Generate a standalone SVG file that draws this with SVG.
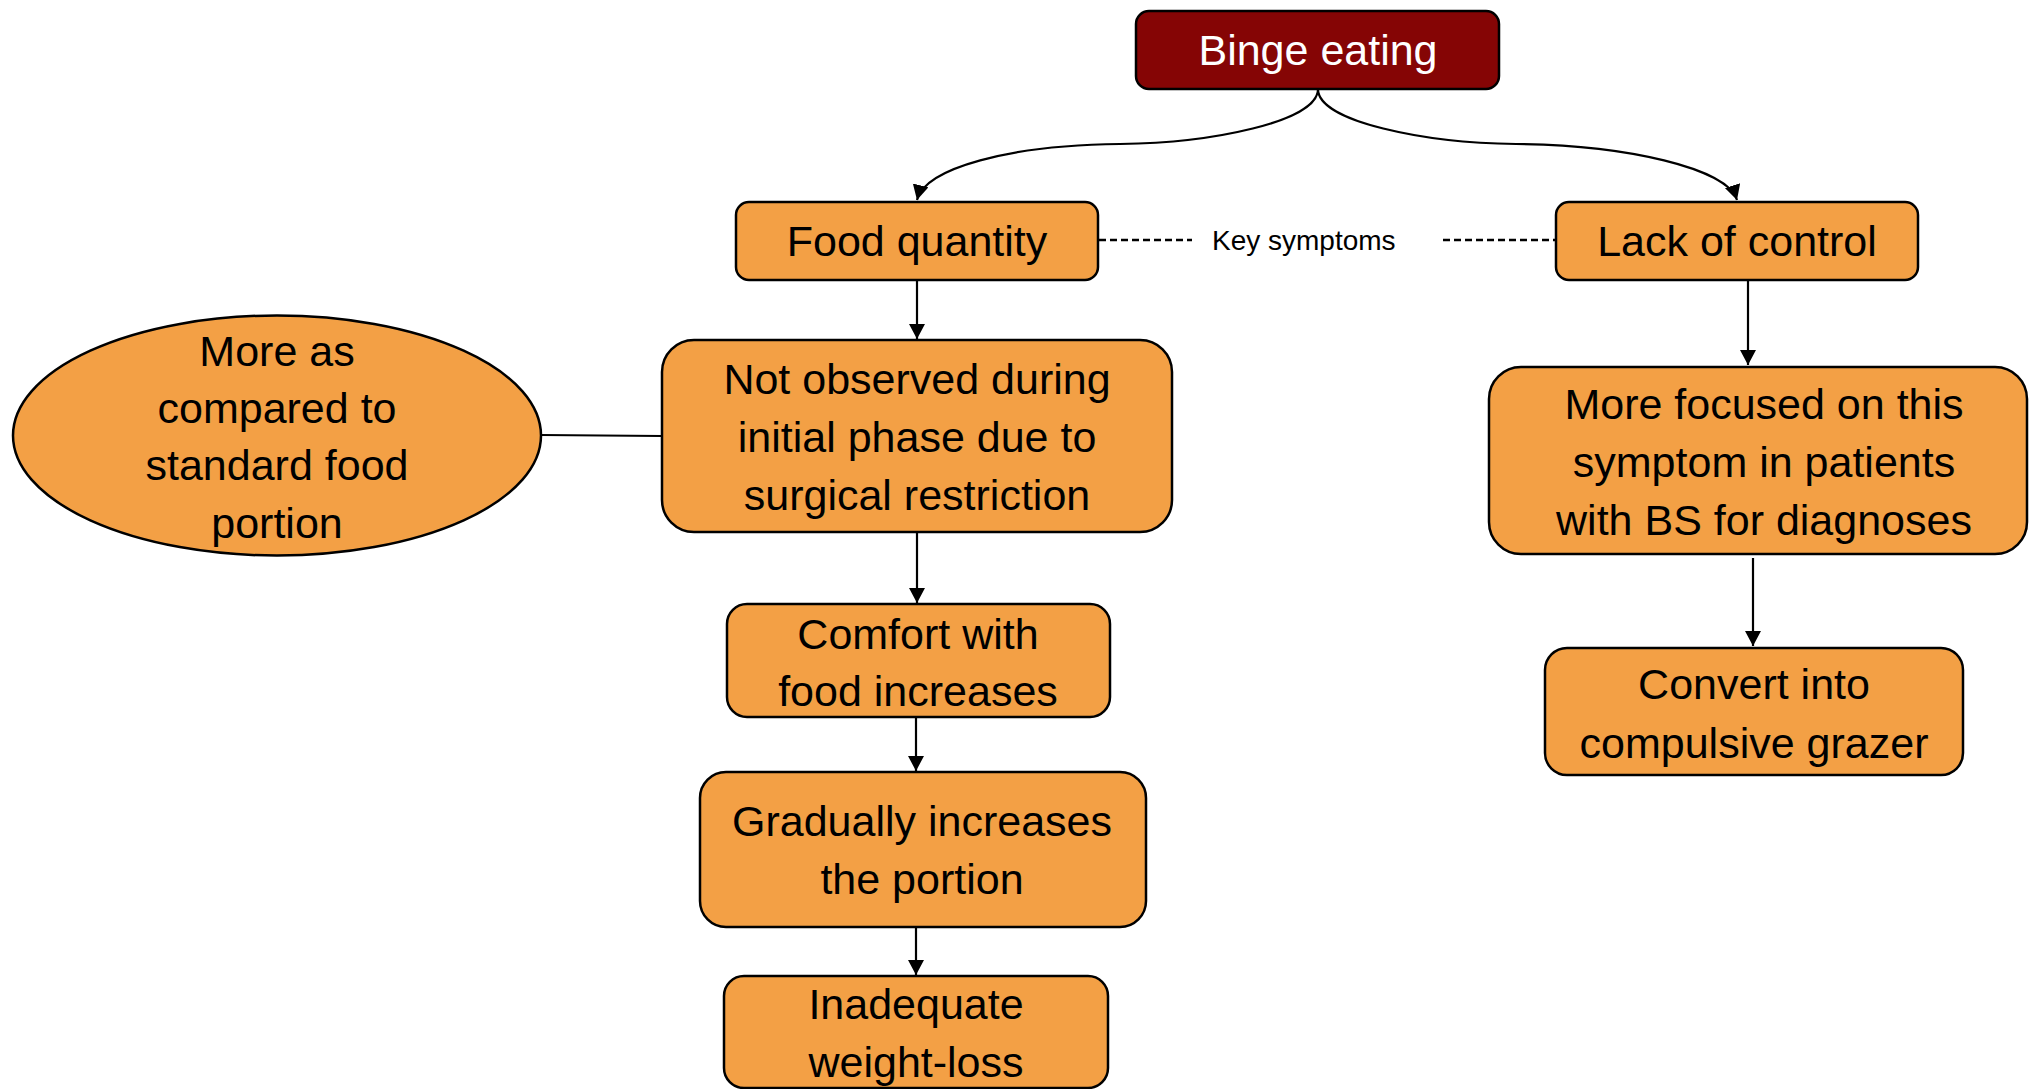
<svg xmlns="http://www.w3.org/2000/svg" width="2029" height="1089" viewBox="0 0 2029 1089">
<style>
.box{fill:#F3A045;stroke:#000;stroke-width:2.5}
.root{fill:#850505;stroke:#000;stroke-width:2.5}
.t{font-family:"Liberation Sans",Arial,sans-serif;font-size:43px;fill:#000;text-anchor:middle}
.w{fill:#fff}
.ks{font-family:"Liberation Sans",Arial,sans-serif;font-size:28px;fill:#000}
.c{fill:none;stroke:#000;stroke-width:2.2}
.d{fill:none;stroke:#000;stroke-width:2.4;stroke-dasharray:7 4}
</style>
<defs>
<marker id="ah" markerUnits="userSpaceOnUse" markerWidth="18" markerHeight="18" refX="15" refY="8" orient="auto">
<path d="M0,0 L15,8 L0,16 Z" fill="#000"/>
</marker>
</defs>
<rect width="2029" height="1089" fill="#fff"/>
<g id="connectors">
<path class="c" d="M1318,89 C1318,122 1210,143 1120,144 C1010,145 925,168 917,200" marker-end="url(#ah)"/>
<path class="c" d="M1318,89 C1318,122 1426,143 1516,144 C1626,145 1727,168 1737,200" marker-end="url(#ah)"/>
<line class="c" x1="917" y1="280" x2="917" y2="339" marker-end="url(#ah)"/>
<line class="c" x1="917" y1="532" x2="917" y2="603" marker-end="url(#ah)"/>
<line class="c" x1="916" y1="717" x2="916" y2="771" marker-end="url(#ah)"/>
<line class="c" x1="916" y1="927" x2="916" y2="975" marker-end="url(#ah)"/>
<line class="c" x1="1748" y1="280" x2="1748" y2="365" marker-end="url(#ah)"/>
<line class="c" x1="1753" y1="558" x2="1753" y2="646" marker-end="url(#ah)"/>
<line class="c" x1="541" y1="435" x2="662" y2="436"/>
<line class="d" x1="1099" y1="240" x2="1192" y2="240"/>
<line class="d" x1="1443" y1="240" x2="1556" y2="240"/>
<text class="ks" x="1212" y="250">Key symptoms</text>
</g>
<g id="binge">
<rect class="root" x="1136" y="11" width="363" height="78" rx="13"/>
<text class="t w" x="1318" y="65">Binge eating</text>
</g>
<g id="food-quantity">
<rect class="box" x="736" y="202" width="362" height="78" rx="13"/>
<text class="t" x="917" y="256">Food quantity</text>
</g>
<g id="lack-of-control">
<rect class="box" x="1556" y="202" width="362" height="78" rx="13"/>
<text class="t" x="1737" y="256">Lack of control</text>
</g>
<g id="more-as-compared">
<ellipse class="box" cx="277" cy="435.5" rx="264" ry="120"/>
<text class="t" x="277" y="366">More as</text>
<text class="t" x="277" y="423">compared to</text>
<text class="t" x="277" y="480">standard food</text>
<text class="t" x="277" y="538">portion</text>
</g>
<g id="not-observed">
<rect class="box" x="662" y="340" width="510" height="192" rx="32"/>
<text class="t" x="917" y="394">Not observed during</text>
<text class="t" x="917" y="452">initial phase due to</text>
<text class="t" x="917" y="510">surgical restriction</text>
</g>
<g id="comfort">
<rect class="box" x="727" y="604" width="383" height="113" rx="20"/>
<text class="t" x="918" y="649">Comfort with</text>
<text class="t" x="918" y="706">food increases</text>
</g>
<g id="gradually">
<rect class="box" x="700" y="772" width="446" height="155" rx="26"/>
<text class="t" x="922" y="836">Gradually increases</text>
<text class="t" x="922" y="894">the portion</text>
</g>
<g id="inadequate">
<rect class="box" x="724" y="976" width="384" height="112" rx="20"/>
<text class="t" x="916" y="1019">Inadequate</text>
<text class="t" x="916" y="1077">weight-loss</text>
</g>
<g id="more-focused">
<rect class="box" x="1489" y="367" width="538" height="187" rx="32"/>
<text class="t" x="1764" y="419">More focused on this</text>
<text class="t" x="1764" y="477">symptom in patients</text>
<text class="t" x="1764" y="535">with BS for diagnoses</text>
</g>
<g id="convert">
<rect class="box" x="1545" y="648" width="418" height="127" rx="22"/>
<text class="t" x="1754" y="699">Convert into</text>
<text class="t" x="1754" y="758">compulsive grazer</text>
</g>
</svg>
